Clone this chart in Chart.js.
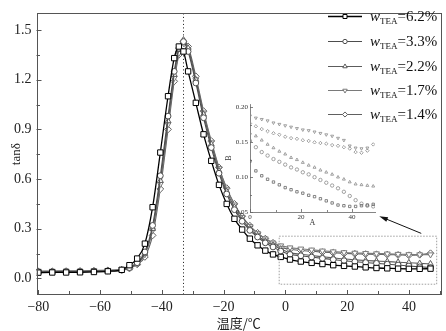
<!DOCTYPE html>
<html>
<head>
<meta charset="utf-8">
<script src="https://cdn.jsdelivr.net/npm/chart.js@4"></script>
<style>
html, body { margin: 0; padding: 0; background: #fff; }
#wrap { position: relative; width: 446px; height: 331px; }
#main { position: absolute; left: 0; top: 0; }
#inset { position: absolute; left: 218px; top: 96px; }
</style>
</head>
<body>
<div id="wrap">
  <canvas id="main" width="446" height="331"></canvas>
  <canvas id="inset" width="162" height="134"></canvas>
</div>
<script>
// 主图数据 (温度 / tanδ)
const temps = [-80, -75.5, -71, -66.5, -62, -57.5, -53, -50.5, -48, -45.5, -43, -40.5, -38, -36, -34.5, -33, -31.5, -29, -26.5, -24, -21.5, -19, -16.5, -14, -11.5, -9, -6.5, -4, -1.5, 1.5, 5, 8.5, 12, 15.5, 19, 22.5, 26, 29.5, 33, 36.5, 40, 43.5, 47]
const w62 = [0.035, 0.036, 0.036, 0.037, 0.039, 0.043, 0.052, 0.08, 0.12, 0.21, 0.43, 0.76, 1.10, 1.33, 1.40, 1.37, 1.25, 1.06, 0.87, 0.71, 0.565, 0.45, 0.36, 0.295, 0.24, 0.20, 0.168, 0.145, 0.13, 0.114, 0.102, 0.094, 0.087, 0.080, 0.076, 0.072, 0.067, 0.063, 0.061, 0.059, 0.058, 0.058, 0.059]
const w33 = [0.04, 0.04, 0.042, 0.042, 0.044, 0.046, 0.05, 0.065, 0.095, 0.16, 0.32, 0.62, 0.98, 1.25, 1.39, 1.43, 1.37, 1.18, 0.97, 0.79, 0.635, 0.51, 0.415, 0.345, 0.29, 0.25, 0.215, 0.19, 0.165, 0.145, 0.137, 0.129, 0.121, 0.114, 0.107, 0.101, 0.096, 0.091, 0.086, 0.081, 0.075, 0.07, 0.066]
const w22 = [0.04, 0.038, 0.04, 0.041, 0.043, 0.046, 0.05, 0.062, 0.09, 0.15, 0.30, 0.59, 0.95, 1.23, 1.38, 1.44, 1.39, 1.20, 0.99, 0.81, 0.65, 0.525, 0.43, 0.355, 0.30, 0.258, 0.225, 0.20, 0.178, 0.155, 0.146, 0.138, 0.131, 0.124, 0.117, 0.112, 0.108, 0.105, 0.102, 0.098, 0.095, 0.091, 0.088]
const w17 = [0.045, 0.045, 0.046, 0.046, 0.048, 0.05, 0.055, 0.065, 0.09, 0.145, 0.29, 0.57, 0.93, 1.21, 1.36, 1.42, 1.38, 1.20, 1.00, 0.82, 0.665, 0.54, 0.445, 0.37, 0.315, 0.272, 0.24, 0.215, 0.198, 0.186, 0.179, 0.173, 0.167, 0.162, 0.157, 0.154, 0.152, 0.150, 0.149, 0.147, 0.145, 0.144, 0.144]
const w14 = [0.042, 0.043, 0.044, 0.045, 0.046, 0.048, 0.052, 0.06, 0.085, 0.13, 0.26, 0.54, 0.90, 1.19, 1.35, 1.43, 1.40, 1.22, 1.01, 0.83, 0.67, 0.545, 0.45, 0.375, 0.318, 0.275, 0.24, 0.215, 0.188, 0.176, 0.169, 0.164, 0.159, 0.155, 0.151, 0.149, 0.147, 0.145, 0.144, 0.142, 0.14, 0.143, 0.152]
const seriesNames = ['6.2%', '3.3%', '2.2%', '1.7%', '1.4%']
const xTicks = [-80, -60, -40, -20, 0, 20, 40]
const yTicks = [0, 0.3, 0.6, 0.9, 1.2, 1.5]

// 局部放大图数据 (A / B)
const insetA = [0, 2.3, 4.6, 6.9, 9.2, 11.5, 13.8, 16.1, 18.4, 20.7, 23, 25.3, 27.6, 29.9, 32.2, 34.5, 36.8, 39.1, 41.4, 43.7, 46, 48.3]
const b62 = [0.123, 0.109, 0.102, 0.097, 0.093, 0.089, 0.085, 0.082, 0.079, 0.077, 0.074, 0.072, 0.069, 0.066, 0.063, 0.060, 0.059, 0.058, 0.058, 0.059, 0.060, 0.061]
const b33 = [0.152, 0.143, 0.136, 0.131, 0.126, 0.122, 0.118, 0.114, 0.111, 0.107, 0.104, 0.100, 0.096, 0.092, 0.088, 0.084, 0.079, 0.073, 0.067, 0.062, 0.059, 0.058]
const b22 = [0.163, 0.159, 0.153, 0.147, 0.142, 0.137, 0.133, 0.128, 0.125, 0.121, 0.117, 0.114, 0.110, 0.107, 0.104, 0.100, 0.097, 0.093, 0.090, 0.089, 0.088, 0.087]
const b17 = [0.188, 0.185, 0.183, 0.181, 0.178, 0.176, 0.174, 0.172, 0.170, 0.168, 0.167, 0.165, 0.163, 0.161, 0.159, 0.156, 0.153, 0.145, 0.142, 0.141, 0.142, null]
const b14 = [0.177, 0.173, 0.169, 0.166, 0.163, 0.161, 0.158, 0.156, 0.155, 0.153, 0.152, 0.150, 0.149, 0.148, 0.146, 0.145, 0.143, 0.141, 0.136, 0.135, 0.138, 0.147]
const insetXTicks = [0, 20, 40]
const insetYTicks = [0.05, 0.10, 0.15, 0.20]

// 标注
const peakT = -33
const zoomBox = { x0: -2, x1: 49, y0: -0.035, y1: 0.255 }
const arrowFrom = { x: 44, y: 0.272 }
const arrowTo = { x: 30.4, y: 0.376 }

const serif = 'Liberation Serif'
const looks = [
    { color: '#000000', shape: 'rect', r: 3.8, rot: 0 },
    { color: '#4d4d4d', shape: 'circle', r: 2.9, rot: 0 },
    { color: '#5c5c5c', shape: 'triangle', r: 3.4, rot: 0 },
    { color: '#7a7a7a', shape: 'triangle', r: 3.4, rot: 180 },
    { color: '#606060', shape: 'rectRot', r: 3.4, rot: 0 }
]

// 内向刻度
function inTicks(ctx, scale, values, len, horizontal) {
    const a = scale.chart.chartArea
    values.filter(v => v >= scale.min && v <= scale.max).forEach(v => {
        const p = Math.round(scale.getPixelForValue(v)) + 0.5
        ctx.beginPath()
        if (horizontal) { ctx.moveTo(p, a.bottom); ctx.lineTo(p, a.bottom - len) }
        else { ctx.moveTo(a.left, p); ctx.lineTo(a.left + len, p) }
        ctx.stroke()
    })
}

const mainDecor = {
    id: 'mainDecor',
    beforeDatasetsDraw(chart) {
        const { ctx, chartArea: a, scales: { x } } = chart
        const px = Math.round(x.getPixelForValue(peakT)) + 0.5
        ctx.save()
        ctx.strokeStyle = '#111'
        ctx.lineWidth = 1
        ctx.setLineDash([1, 2.5])
        ctx.beginPath()
        ctx.moveTo(px, a.top)
        ctx.lineTo(px, a.bottom)
        ctx.stroke()
        ctx.restore()
    },
    afterDatasetsDraw(chart) {
        const { ctx, scales: { x, y } } = chart
        ctx.save()
        // 虚线框
        ctx.strokeStyle = '#888'
        ctx.lineWidth = 0.8
        ctx.setLineDash([1.5, 1.5])
        const bx = x.getPixelForValue(zoomBox.x0), by = y.getPixelForValue(zoomBox.y1)
        ctx.strokeRect(bx, by, x.getPixelForValue(zoomBox.x1) - bx, y.getPixelForValue(zoomBox.y0) - by)
        // 箭头
        ctx.setLineDash([])
        ctx.strokeStyle = '#111'
        ctx.fillStyle = '#111'
        ctx.lineWidth = 1
        const x1 = x.getPixelForValue(arrowFrom.x), y1 = y.getPixelForValue(arrowFrom.y)
        const x2 = x.getPixelForValue(arrowTo.x), y2 = y.getPixelForValue(arrowTo.y)
        const ang = Math.atan2(y2 - y1, x2 - x1)
        ctx.beginPath()
        ctx.moveTo(x1, y1)
        ctx.lineTo(x2 - 6 * Math.cos(ang), y2 - 6 * Math.sin(ang))
        ctx.stroke()
        ctx.beginPath()
        ctx.moveTo(x2, y2)
        ctx.lineTo(x2 - 9 * Math.cos(ang - 0.28), y2 - 9 * Math.sin(ang - 0.28))
        ctx.lineTo(x2 - 9 * Math.cos(ang + 0.28), y2 - 9 * Math.sin(ang + 0.28))
        ctx.closePath()
        ctx.fill()
        ctx.restore()
    },
    afterDraw(chart) {
        const { ctx, chartArea: a, scales: { x, y } } = chart
        ctx.save()
        ctx.strokeStyle = '#555'
        ctx.lineWidth = 1
        ctx.strokeRect(Math.round(a.left) + 0.5, Math.round(a.top) + 0.5, Math.round(a.right - a.left) - 1, Math.round(a.bottom - a.top) - 1)
        inTicks(ctx, x, xTicks, 5, true)
        inTicks(ctx, x, xTicks.map(v => v + 10), 4, true)
        inTicks(ctx, y, yTicks, 5, false)
        inTicks(ctx, y, yTicks.map(v => v + 0.15), 3.5, false)

        // 图例
        const rows = [16, 41, 66, 90, 114]
        rows.forEach((ry, i) => {
            const lk = looks[i]
            ctx.strokeStyle = lk.color
            ctx.lineWidth = i === 0 ? 1.4 : 1.2
            ctx.beginPath()
            ctx.moveTo(328, ry + 0.5)
            ctx.lineTo(362, ry + 0.5)
            ctx.stroke()
            ctx.fillStyle = '#fff'
            ctx.lineWidth = 1
            Chart.helpers.drawPoint(ctx, { pointStyle: lk.shape, radius: lk.r * 0.75, rotation: lk.rot, borderWidth: 1 }, 345, ry + 0.5)
            ctx.fillStyle = '#111'
            ctx.textBaseline = 'alphabetic'
            let tx = 370
            ctx.font = 'italic 15px "' + serif + '"'
            ctx.fillText('w', tx, ry + 5)
            tx += ctx.measureText('w').width
            ctx.font = '9px "' + serif + '"'
            ctx.fillText('TEA', tx, ry + 8)
            tx += ctx.measureText('TEA').width
            ctx.font = '15px "' + serif + '"'
            ctx.fillText('=' + seriesNames[i], tx, ry + 5)
        })
        ctx.restore()
    }
}

const mainChart = new Chart(document.getElementById('main'), {
    type: 'line',
    data: {
        datasets: [w62, w33, w22, w17, w14].map((vals, i) => ({
            label: seriesNames[i],
            data: temps.map((t, k) => ({ x: t, y: vals[k] })),
            borderColor: looks[i].color,
            borderWidth: i === 0 ? 1.3 : 1.1,
            pointStyle: looks[i].shape,
            pointRadius: looks[i].r,
            pointRotation: looks[i].rot,
            pointBorderColor: looks[i].color,
            pointBackgroundColor: '#fff',
            pointBorderWidth: 1,
            cubicInterpolationMode: 'monotone'
        }))
    },
    options: {
        responsive: false,
        animation: false,
        layout: { padding: { left: 0, right: 1, top: 1, bottom: 0 } },
        plugins: { legend: { display: false }, tooltip: { enabled: false } },
        scales: {
            x: {
                type: 'linear', min: -80.6, max: 50.4,
                afterBuildTicks: s => { s.ticks = xTicks.map(v => ({ value: v })) },
                afterFit: s => { s.height = 36 },
                grid: { display: false, drawTicks: false },
                border: { display: false },
                ticks: {
                    padding: 4, color: '#222', maxRotation: 0, autoSkip: false,
                    font: { family: serif, size: 14 },
                    callback: v => v < 0 ? '\u2212' + (-v) : String(v)
                },
                title: {
                    display: true, text: '温度/℃', color: '#222',
                    font: { family: 'Noto Sans CJK SC', size: 13 },
                    padding: { top: 0, bottom: 0 }
                }
            },
            y: {
                type: 'linear', min: -0.1, max: 1.6,
                afterBuildTicks: s => { s.ticks = yTicks.map(v => ({ value: v })) },
                afterFit: s => { s.width = 36.5 },
                grid: { display: false, drawTicks: false },
                border: { display: false },
                ticks: {
                    padding: 5, color: '#222',
                    font: { family: serif, size: 14 },
                    callback: v => v.toFixed(1)
                },
                title: {
                    display: true, text: 'tanδ', color: '#222',
                    font: { family: serif, size: 13 },
                    padding: { top: 9, bottom: 0 }
                }
            }
        }
    },
    plugins: [mainDecor]
})

// 局部放大图
const insetDecor = {
    id: 'insetDecor',
    afterDraw(chart) {
        const { ctx, scales: { x, y } } = chart
        ctx.save()
        ctx.strokeStyle = '#666'
        ctx.lineWidth = 0.8
        inTicks(ctx, x, insetXTicks, 3, true)
        inTicks(ctx, x, [10, 30], 2, true)
        inTicks(ctx, y, insetYTicks, 3, false)
        inTicks(ctx, y, [0.075, 0.125, 0.175], 2, false)
        ctx.restore()
    }
}

const insetChart = new Chart(document.getElementById('inset'), {
    type: 'scatter',
    data: {
        datasets: [b62, b33, b22, b17, b14].map((vals, i) => ({
            label: seriesNames[i],
            data: insetA.map((a, k) => ({ x: a, y: vals[k] })),
            showLine: false,
            pointStyle: looks[i].shape,
            pointRadius: 1.7,
            pointRotation: looks[i].rot,
            pointBorderColor: i === 0 ? '#666' : '#8a8a8a',
            pointBackgroundColor: 'rgba(255,255,255,0)',
            pointBorderWidth: 0.8
        }))
    },
    options: {
        responsive: false,
        animation: false,
        layout: { padding: { left: 0, right: 5, top: 8, bottom: 0 } },
        plugins: { legend: { display: false }, tooltip: { enabled: false } },
        scales: {
            x: {
                type: 'linear', min: 0, max: 49,
                afterBuildTicks: s => { s.ticks = insetXTicks.map(v => ({ value: v })) },
                afterFit: s => { s.height = 18 },
                grid: { display: false, drawTicks: false },
                border: { display: true, color: '#666', width: 0.8 },
                ticks: { padding: 1, color: '#333', maxRotation: 0, autoSkip: false, font: { family: serif, size: 7 } },
                title: { display: true, text: 'A', color: '#333', font: { family: serif, size: 8 }, padding: { top: 0, bottom: 2 } }
            },
            y: {
                type: 'linear', min: 0.05, max: 0.205,
                afterBuildTicks: s => { s.ticks = insetYTicks.map(v => ({ value: v })) },
                afterFit: s => { s.width = 32 },
                grid: { display: false, drawTicks: false },
                border: { display: true, color: '#666', width: 0.8 },
                ticks: { padding: 2, color: '#333', font: { family: serif, size: 7 }, callback: v => v.toFixed(2) },
                title: { display: true, text: 'B', color: '#333', font: { family: serif, size: 8 }, padding: { top: 6, bottom: 0 } }
            }
        }
    },
    plugins: [insetDecor]
})
</script>
</body>
</html>
